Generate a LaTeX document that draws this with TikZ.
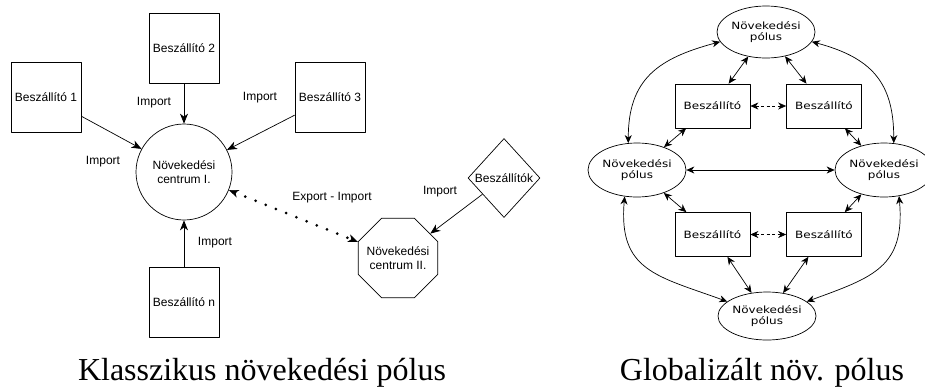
\documentclass[tikz,border=0pt]{standalone}
\usepackage{fontspec}
\setmainfont{Liberation Serif}
\newfontfamily\labelfont{Liberation Sans}
\newfontfamily\widefont[FakeStretch=1.2]{DejaVu Sans}
\usetikzlibrary{arrows.meta,shapes.geometric}

\begin{document}
\begin{tikzpicture}[
			x=1pt, y=-1pt,
			line join=round,
			every node/.style={font=\labelfont\fontsize{12}{14.4}\selectfont, align=center},
			box/.style={draw, line width=0.7pt, minimum width=70pt, minimum height=70pt, inner sep=0pt},
			pole/.style={draw, ellipse, line width=0.7pt, minimum width=94pt, minimum height=52pt, inner sep=0pt,
				font=\widefont\fontsize{10}{10.5}\selectfont},
			supbox/.style={draw, line width=0.7pt, minimum width=75pt, minimum height=44pt, inner sep=0pt,
				font=\widefont\fontsize{10}{12}\selectfont},
			imp/.style={-{Stealth[length=10pt,width=8pt,inset=3pt]}, line width=0.7pt},
			expimp/.style={{Stealth[length=10pt,width=8pt,inset=3pt,line width=0.7pt]}-{Stealth[length=10pt,width=8pt,inset=3pt,line width=0.7pt]},
				line width=3pt, line cap=round, dash pattern=on 0pt off 11pt},
			link/.style={{Stealth[length=8pt,width=7pt,inset=2.5pt]}-{Stealth[length=8pt,width=7pt,inset=2.5pt]}, line width=0.7pt},
			caption/.style={font=\fontsize{32}{36}\selectfont, anchor=base}
			]
			\useasboundingbox (0,0) rectangle (925,389);
			
			% Klasszikus: suppliers round the centre
			\node[box] (b1) at (46,97) {Beszállító 1};
			\node[box] (b2) at (184,48.5) {Beszállító 2};
			\node[box] (b3) at (330,97) {Beszállító 3};
			\node[box] (bn) at (184,302.5) {Beszállító n};
			\node[draw, circle, line width=0.7pt, minimum size=96pt, inner sep=0pt] (c1) at (184,172) {Növekedési\\centrum I.};
			\node[draw, regular polygon, regular polygon sides=8, line width=0.7pt, minimum size=86pt, inner sep=-12pt] (c2) at (398,258) {Növekedési\\centrum II.};
			\node[draw, diamond, line width=0.7pt, minimum width=72pt, minimum height=79pt, inner sep=-12pt] (bk) at (504,178) {Beszállítók};
			
			\draw[imp] (b1) -- (c1);
			\draw[imp] (b2) -- (c1);
			\draw[imp] (b3) -- (c1);
			\draw[imp] (bn) -- (c1);
			\draw[imp] (bk) -- (c2);
			\draw[expimp] (c1) -- (c2);
			
			% Labels on the arrows
			\node (i1) at (103,162) {Import};
			\node (i2) at (154,103) {Import};
			\node (i3) at (260,98) {Import};
			\node (in) at (215,243) {Import};
			\node (ik) at (440,192) {Import};
			\node (ei) at (332,198) {Export - Import};
			
			% Globalizalt: four poles, four suppliers
			\node[pole] (pt) at (766,32) {Növekedési\\pólus};
			\node[pole, minimum height=54pt] (pl) at (637,170) {Növekedési\\pólus};
			\node[pole, minimum height=54pt] (pr) at (884,170) {Növekedési\\pólus};
			\node[pole, minimum width=96pt, minimum height=48pt] (pb) at (767,316) {Növekedési\\pólus};
			
			\node[supbox] (s1) at (712.5,106) {Beszállító};
			\node[supbox] (s2) at (824,106) {Beszállító};
			\node[supbox] (s3) at (712.5,234.5) {Beszállító};
			\node[supbox] (s4) at (824,234.5) {Beszállító};
			
			\draw[link] (pt) -- (s1);
			\draw[link] (pt) -- (s2);
			\draw[link] (s1) -- (pl);
			\draw[link] (s2) -- (pr);
			\draw[link] (s3) -- (pl);
			\draw[link] (s4) -- (pr);
			\draw[link] (s3) -- (pb);
			\draw[link] (s4) -- (pb);
			\draw[link] (pl) -- (pr);
			\draw[link, dash pattern=on 3pt off 2.5pt] (s1) -- (s2);
			\draw[link, dash pattern=on 3pt off 2.5pt] (s3) -- (s4);
			
			% Outer arcs between the poles
			\draw[link] (pt.192) to[out=195, in=90, looseness=1.2] (pl.108);
			\draw[link] (pt.-12) to[out=-15, in=90, looseness=1.2] (pr.70);
			\draw[link] (pl.245) to[out=265, in=160, looseness=1.3] (pb.160);
			\draw[link] (pr.300) to[out=275, in=20, looseness=1.3] (pb.20);
			
			% Captions
			\node[caption] (cap1) at (262,380) {Klasszikus növekedési pólus};
			\node[caption] (cap2) at (762,380) {Globalizált növ. pólus};
\end{tikzpicture}
\end{document}
